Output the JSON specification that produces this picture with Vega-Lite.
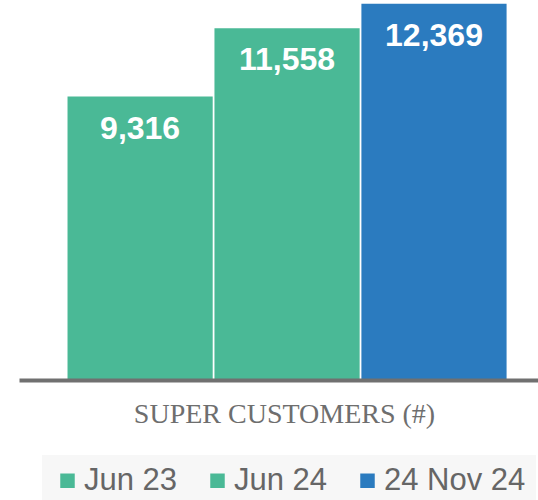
{
  "$schema": "https://vega.github.io/schema/vega-lite/v6.json",
  "width": 519,
  "height": 380,
  "autosize": {"type": "none"},
  "padding": {"left": 19, "top": 0, "right": 0, "bottom": 120},
  "background": "white",
  "config": {"view": {"stroke": null}},
  "data": {
    "values": [
      {"period": "Jun 23", "customers": 9316},
      {"period": "Jun 24", "customers": 11558},
      {"period": "24 Nov 24", "customers": 12369}
    ]
  },
  "encoding": {
    "x": {
      "field": "period",
      "type": "nominal",
      "sort": ["Jun 23", "Jun 24", "24 Nov 24"],
      "scale": {"paddingInner": 0.012, "paddingOuter": 0.272, "align": 0.607},
      "axis": {
        "title": "SUPER CUSTOMERS (#)",
        "labels": false,
        "ticks": false,
        "domainColor": "#707070",
        "domainWidth": 4,
        "titleFont": "Liberation Serif",
        "titleFontSize": 28,
        "titleFontWeight": "normal",
        "titleColor": "#6e6e6e",
        "titlePadding": 20,
        "titleX": 265,
        "zindex": 1
      }
    },
    "y": {
      "field": "customers",
      "type": "quantitative",
      "scale": {"domain": [0, 12490], "nice": false, "zero": true},
      "axis": null
    }
  },
  "layer": [
    {
      "mark": {"type": "bar"},
      "encoding": {
        "color": {
          "field": "period",
          "type": "nominal",
          "sort": ["Jun 23", "Jun 24", "24 Nov 24"],
          "scale": {"domain": ["Jun 23", "Jun 24", "24 Nov 24"], "range": ["#4ab996", "#4ab996", "#2b7bbf"]},
          "legend": {
            "title": null,
            "orient": "none",
            "direction": "horizontal",
            "legendX": 23,
            "legendY": 455,
            "padding": 10,
            "fillColor": "#f7f7f7",
            "symbolType": "square",
            "symbolSize": 210,
            "symbolStrokeWidth": 0,
            "labelFont": "Liberation Sans",
            "labelFontSize": 31,
            "labelColor": "#666666",
            "labelOffset": 1,
            "columnPadding": 24,
            "labelLimit": 300
          }
        }
      }
    },
    {
      "mark": {
        "type": "text",
        "baseline": "alphabetic",
        "align": "center",
        "dy": 42,
        "font": "Liberation Sans",
        "fontSize": 32,
        "fontWeight": "bold",
        "color": "white"
      },
      "encoding": {
        "text": {"field": "customers", "type": "quantitative", "format": ","}
      }
    }
  ]
}
